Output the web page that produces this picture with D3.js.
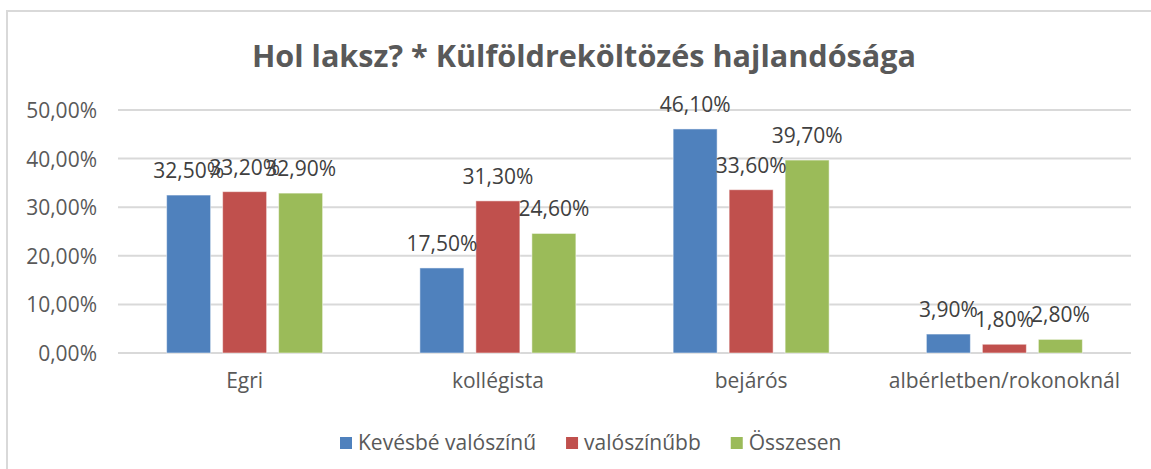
<!DOCTYPE html>
<html>
<head>
<meta charset="utf-8">
<script src="https://cdn.jsdelivr.net/npm/d3@7"></script>
<style>
  body { margin: 0; background: #fff; }
  text { font-family: "Open Sans", sans-serif; }
</style>
</head>
<body>
<div id="chart"></div>
<script>
// data
var categories = ["Egri", "kollégista", "bejárós", "albérletben/rokonoknál"];
var seriesNames = ["Kevésbé valószínű", "valószínűbb", "Összesen"];
var kevesbe = [0.325, 0.175, 0.461, 0.039];
var valoszinubb = [0.332, 0.313, 0.336, 0.018];
var osszesen = [0.329, 0.246, 0.397, 0.028];
var yTicks = [0, 0.1, 0.2, 0.3, 0.4, 0.5];
var colors = ["#4f81bd", "#c0504d", "#9bbb59"];

var seriesValues = [kevesbe, valoszinubb, osszesen];

var svgWidth = 1151;
var svgHeight = 469;

var margin = { top: 110, right: 20, bottom: 116, left: 118 };
var plotRight = 1131;
var plotBottom = 353;

var svg = d3.select("#chart")
  .append("svg")
  .attr("width", svgWidth)
  .attr("height", svgHeight);

svg.append("rect")
  .attr("width", svgWidth).attr("height", svgHeight)
  .attr("fill", "#fff");

// chart border
svg.append("rect")
  .attr("x", 7).attr("y", 11)
  .attr("width", 1160).attr("height", 480)
  .attr("fill", "none")
  .attr("stroke", "#d9d9d9")
  .attr("stroke-width", 2);

// title
svg.append("text")
  .attr("x", 584)
  .attr("y", 67)
  .attr("text-anchor", "middle")
  .style("font-size", "30.6px")
  .style("font-weight", "bold")
  .style("fill", "#595959")
  .text("Hol laksz? * Külföldreköltözés hajlandósága");

// scales
var y = d3.scaleLinear()
  .domain([0, 0.5])
  .range([plotBottom, margin.top]);

var x0 = d3.scaleBand()
  .domain(categories)
  .range([margin.left, plotRight])
  .padding(0);

var groupWidth = 156;
var x1 = d3.scaleBand()
  .domain(d3.range(seriesNames.length))
  .range([0, groupWidth])
  .paddingInner(12 / 56)
  .paddingOuter(0);

var fmt = function(v) {
  return (v * 100).toFixed(2).replace(".", ",") + "%";
};

// gridlines
svg.append("g")
  .selectAll("line")
  .data(yTicks)
  .enter()
  .append("line")
  .attr("x1", margin.left)
  .attr("x2", plotRight)
  .attr("y1", d => y(d))
  .attr("y2", d => y(d))
  .attr("stroke", "#d9d9d9")
  .attr("stroke-width", 2);

// y axis labels
var yAxis = d3.axisLeft(y)
  .tickValues(yTicks)
  .tickSize(0)
  .tickPadding(21)
  .tickFormat(fmt);

var yG = svg.append("g")
  .attr("transform", `translate(${margin.left}, 0)`)
  .call(yAxis);
yG.select(".domain").remove();
yG.selectAll("text")
  .style("font-size", "21px")
  .style("fill", "#595959")
  .attr("dy", "0.36em");

// x axis labels
var xAxis = d3.axisBottom(x0).tickSize(0).tickPadding(20);
var xG = svg.append("g")
  .attr("transform", `translate(0, ${plotBottom})`)
  .call(xAxis);
xG.select(".domain").remove();
xG.selectAll("text")
  .style("font-size", "21px")
  .style("fill", "#595959");

// bars
var groups = svg.append("g")
  .selectAll("g")
  .data(categories)
  .enter()
  .append("g")
  .attr("transform", d => `translate(${x0(d) + (x0.bandwidth() - groupWidth) / 2}, 0)`);

groups.selectAll("rect")
  .data((d, i) => seriesValues.map((s, j) => ({ s: j, v: s[i] })))
  .enter()
  .append("rect")
  .attr("x", d => x1(d.s))
  .attr("y", d => y(d.v))
  .attr("width", x1.bandwidth())
  .attr("height", d => plotBottom - y(d.v))
  .attr("fill", d => colors[d.s])
  .attr("stroke", "#fff")
  .attr("stroke-opacity", 0.5)
  .attr("stroke-width", 1);

// data labels (outside end, they overlap in the original too)
groups.selectAll("text.lbl")
  .data((d, i) => seriesValues.map((s, j) => ({ s: j, v: s[i] })))
  .enter()
  .append("text")
  .attr("class", "lbl")
  .attr("x", d => x1(d.s) + x1.bandwidth() / 2)
  .attr("y", d => y(d.v) - 17)
  .attr("text-anchor", "middle")
  .style("font-size", "21px")
  .style("fill", "#404040")
  .text(d => fmt(d.v));

// legend
var legend = svg.append("g");
var lx = 340;
seriesNames.forEach(function(name, i) {
  legend.append("rect")
    .attr("x", lx).attr("y", 437)
    .attr("width", 12).attr("height", 12)
    .attr("fill", colors[i]);
  var t = legend.append("text")
    .attr("x", lx + 18)
    .attr("y", 450)
    .style("font-size", "21px")
    .style("fill", "#595959")
    .text(name);
  lx += 18 + t.node().getComputedTextLength() + 30;
});
</script>
</body>
</html>
